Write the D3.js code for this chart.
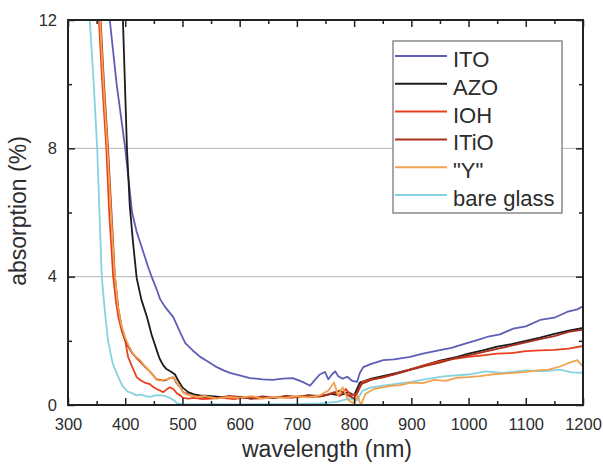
<!DOCTYPE html>
<html><head><meta charset="utf-8">
<script src="https://cdn.jsdelivr.net/npm/d3@7"></script>
<style>body{margin:0;background:#fff;} text{font-family:"Liberation Sans",Arial,sans-serif;fill:#2c2c2c;}</style>
</head><body><svg id="c" width="603" height="464"></svg>
<script>
const seriesNames = ["ITO","AZO","IOH","ITiO","\"Y\"","bare glass"];
const seriesColors = ["#5e5eb6","#1c1c1c","#e8401e","#a8301e","#f2a24e","#86d2e2"];

const itoWl = [360,373,385,400,412,420,431,440,447,455,461,470,484,495,505,518,531,545,560,572,583,600,618,640,658,675,693,710,723,730,740,749,755,761,767,772,780,788,797,805,810,816,830,851,870,898,920,950,970,997,1015,1032,1055,1078,1100,1125,1150,1172,1190,1200];
const itoAbs = [15,12,10,8,6.0,5.4,4.8,4.3,3.96,3.6,3.3,3.05,2.74,2.3,1.93,1.7,1.5,1.35,1.18,1.08,1.0,0.92,0.84,0.8,0.78,0.82,0.84,0.72,0.6,0.75,0.95,1.03,0.8,0.95,1.05,0.9,0.82,0.88,0.75,0.72,1.0,1.18,1.28,1.4,1.42,1.5,1.6,1.71,1.78,1.93,2.02,2.12,2.2,2.38,2.45,2.65,2.72,2.9,2.98,3.08];

const azoWl = [390,396,403,408,414,420,428,438,446,455,460,466,472,481,487,492,500,510,520,531,545,560,580,600,620,640,660,680,700,720,740,760,775,790,800,810,830,850,875,900,925,950,980,1000,1025,1050,1075,1100,1125,1150,1175,1200];
const azoAbs = [15,12,8,6.2,5.0,3.96,3.3,2.74,2.2,1.71,1.45,1.25,1.12,1.03,0.95,0.78,0.55,0.4,0.33,0.3,0.28,0.26,0.22,0.25,0.2,0.24,0.22,0.27,0.25,0.3,0.28,0.35,0.3,0.4,0.3,0.7,0.82,0.9,1.0,1.12,1.25,1.38,1.5,1.6,1.7,1.82,1.9,2.0,2.1,2.22,2.32,2.4];

const iohWl = [345,354,360,367,372,379,384,388,394,400,405,412,420,426,434,443,449,455,461,466,472,478,484,490,496,501,510,520,535,550,570,590,610,630,650,670,690,710,730,750,765,775,785,795,805,815,830,850,875,900,925,950,975,1000,1025,1050,1075,1100,1125,1150,1175,1200];
const iohAbs = [15,12,10,8,6,4.0,3.2,2.74,2.3,2.0,1.5,1.2,0.87,0.78,0.7,0.65,0.56,0.5,0.45,0.4,0.48,0.55,0.5,0.37,0.3,0.22,0.2,0.22,0.18,0.2,0.22,0.18,0.24,0.2,0.22,0.25,0.22,0.28,0.25,0.3,0.4,0.28,0.5,0.3,0.35,0.72,0.8,0.85,0.98,1.12,1.25,1.36,1.44,1.5,1.55,1.6,1.62,1.68,1.7,1.72,1.76,1.84];

const itioWl = [348,357,363,370,376,382,388,394,400,406,412,419,426,434,443,450,455,461,467,472,478,484,490,496,501,508,515,525,540,560,580,600,620,640,660,680,700,720,740,760,775,790,800,812,830,850,875,900,925,950,975,1000,1025,1050,1075,1100,1125,1150,1175,1200];
const itioAbs = [15,12,10,8,6,4,3.0,2.4,2.03,1.8,1.62,1.48,1.35,1.2,1.05,0.9,0.8,0.78,0.76,0.78,0.84,0.86,0.68,0.56,0.4,0.35,0.3,0.27,0.25,0.22,0.28,0.25,0.2,0.27,0.23,0.28,0.25,0.3,0.26,0.35,0.45,0.3,0.2,0.65,0.78,0.87,0.98,1.1,1.22,1.32,1.45,1.55,1.65,1.75,1.85,1.95,2.05,2.15,2.28,2.35];

const yWl = [350,356,362,369,375,381,387,393,400,406,412,419,426,434,443,450,455,461,467,472,478,484,490,496,501,508,515,525,540,560,580,600,620,640,660,680,700,720,740,755,765,772,780,790,800,806,812,820,835,850,865,880,900,920,940,960,980,1000,1020,1040,1060,1080,1100,1120,1140,1160,1175,1190,1200];
const yAbs = [15,12,10,8,6,4.2,3.1,2.5,2.1,1.85,1.65,1.5,1.4,1.22,1.05,0.9,0.78,0.76,0.78,0.8,0.84,0.87,0.7,0.56,0.4,0.32,0.3,0.25,0.28,0.2,0.25,0.22,0.28,0.2,0.25,0.22,0.28,0.24,0.3,0.45,0.7,0.3,0.55,0.15,0.05,0.3,0.0,0.35,0.5,0.55,0.6,0.62,0.7,0.68,0.78,0.75,0.85,0.87,0.9,0.95,0.98,1.0,1.03,1.08,1.1,1.2,1.31,1.4,1.2];

const glassWl = [330,338,345,351,355,359,364,370,378,386,395,404,412,420,428,436,443,452,461,470,478,485,490,500,520,560,600,650,700,740,770,790,805,815,830,850,870,900,930,960,1000,1030,1060,1100,1130,1160,1180,1200];
const glassAbs = [15,12,10,8,6,4,3,2,1.3,0.95,0.6,0.42,0.37,0.3,0.32,0.28,0.25,0.3,0.31,0.28,0.22,0.15,0.06,0.03,0.02,0.03,0.02,0.03,0.03,0.05,0.1,0.2,0.15,0.45,0.55,0.6,0.65,0.72,0.82,0.9,0.95,1.05,1.0,1.08,1.05,1.1,1.02,1.0];

const xTicks = [300,400,500,600,700,800,900,1000,1100,1200];
const yTicks = [0,4,8,12];

(function(){
const svg = d3.select("#c");
const L=68,R=583,T=20,B=405;
const x = d3.scaleLinear().domain([300,1200]).range([L,R]);
const y = d3.scaleLinear().domain([0,12]).range([B,T]);

svg.append("defs").append("clipPath").attr("id","clip").append("rect")
  .attr("x",L).attr("y",T).attr("width",R-L).attr("height",B-T);

svg.selectAll(".grid").data([4,8]).enter().append("line")
  .attr("x1",L).attr("x2",R).attr("y1",d=>y(d)).attr("y2",d=>y(d))
  .attr("stroke","#b4b4b4").attr("stroke-width",1);

const series = [
  {wl:glassWl, v:glassAbs, c:seriesColors[5]},
  {wl:itoWl, v:itoAbs, c:seriesColors[0]},
  {wl:azoWl, v:azoAbs, c:seriesColors[1]},
  {wl:iohWl, v:iohAbs, c:seriesColors[2]},
  {wl:itioWl, v:itioAbs, c:seriesColors[3]},
  {wl:yWl, v:yAbs, c:seriesColors[4]}
];
const line = d3.line().x(d=>x(d[0])).y(d=>y(d[1]));
const g = svg.append("g").attr("clip-path","url(#clip)");
series.forEach(s=>{
  g.append("path").datum(s.wl.map((w,i)=>[w,s.v[i]]))
   .attr("d",line).attr("fill","none").attr("stroke",s.c).attr("stroke-width",1.8)
   .attr("stroke-linejoin","round");
});

const minorX = d3.range(350,1200,100);
const minorY = [2,6,10];
const ax = svg.append("g");
ax.append("g").attr("transform",`translate(0,${B})`)
  .call(d3.axisBottom(x).tickValues(xTicks).tickSize(-7).tickPadding(13).tickFormat(d3.format("d")));
ax.append("g").attr("transform",`translate(0,${T})`)
  .call(d3.axisTop(x).tickValues(xTicks).tickSize(-7).tickFormat(""));
ax.append("g").attr("transform",`translate(${L},0)`)
  .call(d3.axisLeft(y).tickValues(yTicks).tickSize(-7).tickPadding(11).tickFormat(d3.format("d")));
ax.append("g").attr("transform",`translate(${R},0)`)
  .call(d3.axisRight(y).tickValues(yTicks).tickSize(-7).tickFormat(""));
ax.append("g").attr("transform",`translate(0,${B})`).call(d3.axisBottom(x).tickValues(minorX).tickSize(-4).tickFormat(""));
ax.append("g").attr("transform",`translate(0,${T})`).call(d3.axisTop(x).tickValues(minorX).tickSize(-4).tickFormat(""));
ax.append("g").attr("transform",`translate(${L},0)`).call(d3.axisLeft(y).tickValues(minorY).tickSize(-4).tickFormat(""));
ax.append("g").attr("transform",`translate(${R},0)`).call(d3.axisRight(y).tickValues(minorY).tickSize(-4).tickFormat(""));
ax.selectAll(".domain").remove();
ax.selectAll(".tick line").attr("stroke","#222").attr("stroke-width",1.5);
ax.selectAll(".tick text").style("font-size","16.5px").style("font-family","'Liberation Sans',Arial,sans-serif").attr("fill","#2c2c2c");
svg.append("rect").attr("x",L).attr("y",T).attr("width",R-L).attr("height",B-T)
  .attr("fill","none").attr("stroke","#222").attr("stroke-width",2);

svg.append("text").attr("x",327).attr("y",457).attr("text-anchor","middle")
  .style("font-size","23px").text("wavelength (nm)");
svg.append("text").attr("transform","translate(26,211) rotate(-90)").attr("text-anchor","middle")
  .style("font-size","23px").text("absorption (%)");

const lg = svg.append("g");
lg.append("rect").attr("x",393).attr("y",41).attr("width",169).attr("height",172)
  .attr("fill","#fff").attr("stroke","#8a8a8a").attr("stroke-width",1.5);
seriesNames.forEach((n,i)=>{
  const yy = 56 + i*27.8;
  lg.append("line").attr("x1",395).attr("x2",447).attr("y1",yy).attr("y2",yy)
    .attr("stroke",seriesColors[i]).attr("stroke-width",2);
  lg.append("text").attr("x",453).attr("y",yy+11).style("font-size","22px").text(n);
});
})();
</script></body></html>
